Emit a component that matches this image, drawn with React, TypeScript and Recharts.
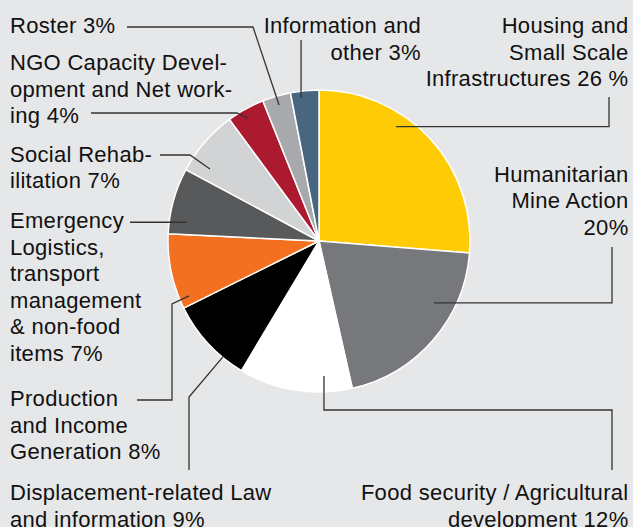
import { PieChart, Pie, Cell } from 'recharts'

const categories = [
  'Housing and Small Scale Infrastructures',
  'Humanitarian Mine Action',
  'Food security / Agricultural development',
  'Displacement-related Law and information',
  'Production and Income Generation',
  'Emergency Logistics, transport management & non-food items',
  'Social Rehabilitation',
  'NGO Capacity Development and Net working',
  'Roster',
  'Information and other',
]
const shares = [26, 20, 12, 9, 8, 7, 7, 4, 3, 3]
const labelText = [
  ['Housing and', 'Small Scale', 'Infrastructures 26 %'],
  ['Humanitarian', 'Mine Action', '20%'],
  ['Food security / Agricultural', 'development 12%'],
  ['Displacement-related Law', 'and information 9%'],
  ['Production', 'and Income', 'Generation 8%'],
  ['Emergency', 'Logistics,', 'transport', 'management', '& non-food', 'items 7%'],
  ['Social Rehab-', 'ilitation 7%'],
  ['NGO Capacity Devel-', 'opment and Net work-', 'ing 4%'],
  ['Roster 3%'],
  ['Information and', 'other 3%'],
]
const colors = ['#ffcb05', '#77787b', '#ffffff', '#000000', '#f37021', '#58595b', '#d1d3d4', '#ac1a2f', '#a7a9ac', '#48667f']

// label placement: text block + leader line (points after the anchor; a missing coord repeats the previous one)
type Pt = { x?: number; y?: number }
const layout: { x: number; y: number; end?: boolean; da: number; rf: number; path: Pt[] }[] = [
  { x: 628.5, y: 33, end: true, da: 13.3, rf: 0.914, path: [{ x: 609 }, { y: 97 }] },
  { x: 628.5, y: 181.5, end: true, da: 12.6, rf: 0.865, path: [{ x: 612 }, { y: 247 }] },
  { x: 628.5, y: 500, end: true, da: 11.2, rf: 0.894, path: [{ y: 410 }, { x: 612 }, { y: 470 }] },
  { x: 10, y: 500, da: 7.6, rf: 0.99, path: [{ x: 189, y: 397 }, { y: 470 }] },
  { x: 10, y: 406, da: 11.1, rf: 0.934, path: [{ x: 172, y: 304 }, { y: 400 }, { x: 137 }] },
  { x: 10, y: 228, da: 7.4, rf: 0.887, path: [{ x: 130 }] },
  { x: 10, y: 161.5, da: 7.5, rf: 0.865, path: [{ x: 190, y: 155 }, { x: 160 }] },
  { x: 10, y: 70, da: 0.9, rf: 0.94, path: [{ x: 237, y: 113 }, { x: 91 }] },
  { x: 10, y: 33, da: 0, rf: 0.939, path: [{ x: 253, y: 27 }, { x: 127 }] },
  { x: 421, y: 33, end: true, da: 1.7, rf: 0.954, path: [{ y: 40 }] },
]

const LINE_H = 26.5
const RAD = Math.PI / 180

const data = categories.map((name, i) => ({ name, value: shares[i] }))

const renderLabel = (props: any) => {
  const { cx, cy, midAngle, outerRadius, index } = props
  const l = layout[index]
  const a = (midAngle + l.da) * RAD
  const r = outerRadius * l.rf
  const pts = [{ x: cx + r * Math.cos(a), y: cy - r * Math.sin(a) }]
  l.path.forEach((p) => {
    const prev = pts[pts.length - 1]
    pts.push({ x: p.x ?? prev.x, y: p.y ?? prev.y })
  })
  return (
    <g key={`lbl-${index}`}>
      <polyline
        points={pts.map((p) => `${p.x},${p.y}`).join(' ')}
        fill="none"
        stroke="#333"
        strokeWidth={1.3}
      />
      <text
        fontFamily="'Liberation Sans', Arial, sans-serif"
        fontSize={22}
        letterSpacing={0.3}
        fill="#111"
        textAnchor={l.end ? 'end' : 'start'}
      >
        {labelText[index].map((line, j) => (
          <tspan key={j} x={l.x} y={l.y + j * LINE_H}>
            {line}
          </tspan>
        ))}
      </text>
    </g>
  )
}

export default function App() {
  return (
    <div style={{ position: 'absolute', left: 0, top: 0, width: 633, height: 527, background: '#e6e7e8' }}>
      <PieChart width={633} height={527} margin={{ top: 0, right: 0, bottom: 0, left: 0 }}>
        <Pie
          data={data}
          dataKey="value"
          nameKey="name"
          cx={319}
          cy={241}
          outerRadius={151}
          startAngle={90}
          endAngle={-270}
          stroke="#ffffff"
          strokeWidth={1.5}
          label={renderLabel}
          labelLine={false}
          isAnimationActive={false}
        >
          {data.map((entry, i) => (
            <Cell key={`cell-${i}`} fill={colors[i]} />
          ))}
        </Pie>
      </PieChart>
    </div>
  )
}
